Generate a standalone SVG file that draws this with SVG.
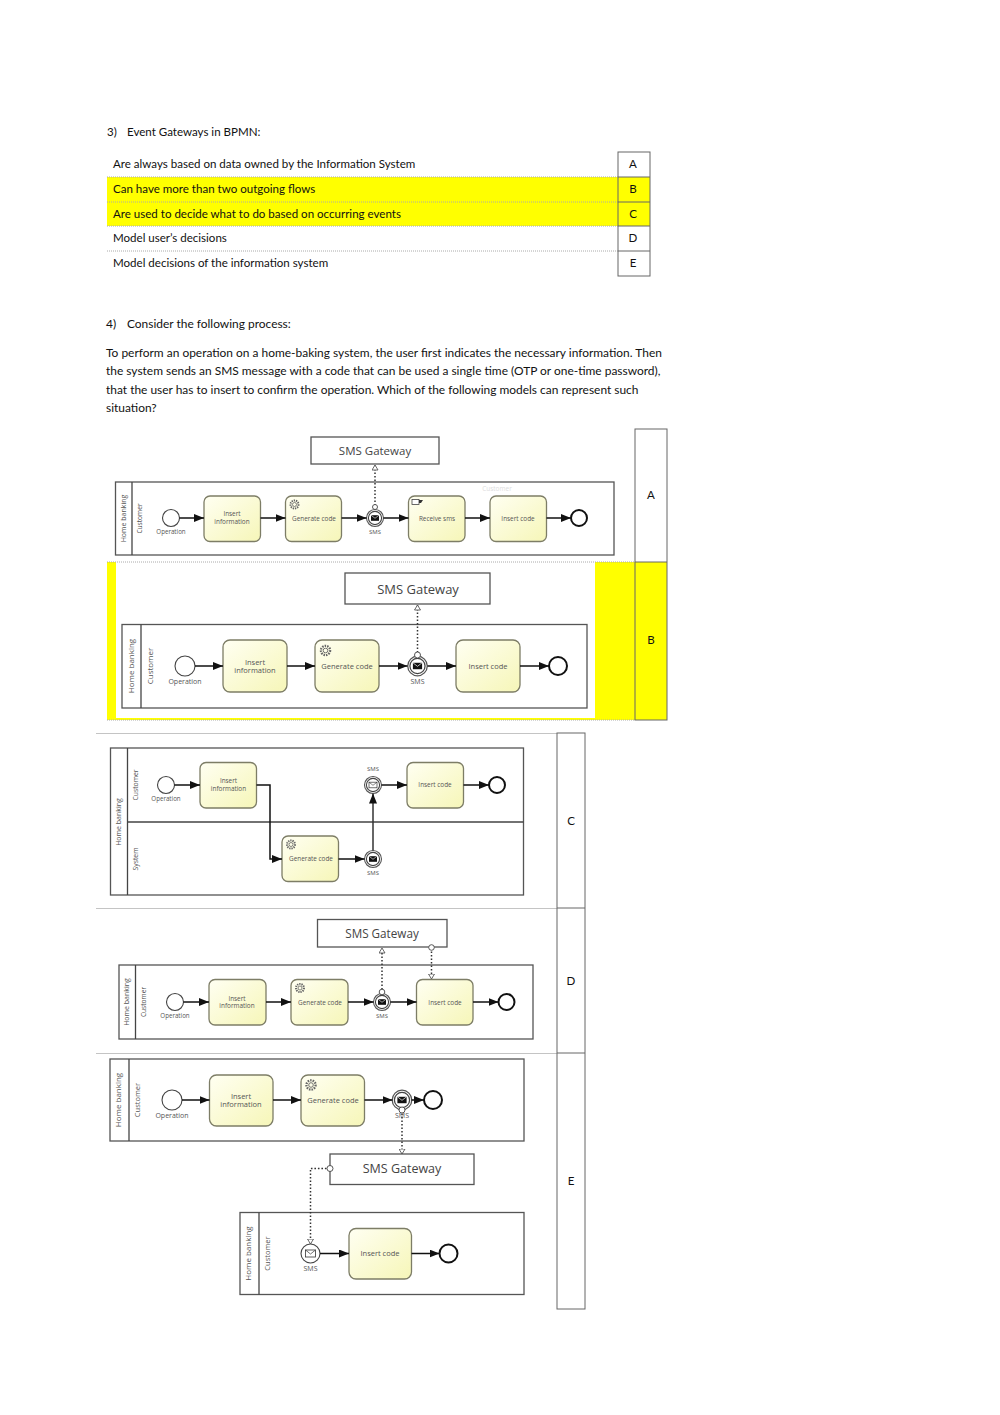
<svg xmlns="http://www.w3.org/2000/svg" width="1000" height="1415" viewBox="0 0 1000 1415">
<style>
.b{font-family:Lato,"Liberation Sans",sans-serif;font-size:11.55px;fill:#111}
.p{font-size:11.95px}
.c{text-anchor:middle}
.pool,.box{fill:#fff;stroke:#555;stroke-width:1.3}
.ln{fill:none;stroke:#444;stroke-width:1.3}
.cell{fill:none;stroke:#666;stroke-width:1}
.dot{stroke:#aaa;stroke-width:1;stroke-dasharray:1 1;fill:none}
.task{fill:url(#tg);stroke:#7d7d66;stroke-width:1.3}
.t{font-family:"Open Sans","Liberation Sans",sans-serif;fill:#555;text-anchor:middle}
.gw{font-family:"Open Sans","Liberation Sans",sans-serif;fill:#444;text-anchor:middle}
.seq{fill:none;stroke:#111;stroke-width:1.5;marker-end:url(#ar)}
.msg{fill:none;stroke:#333;stroke-width:1.5;stroke-dasharray:1.6 1.9;marker-end:url(#op)}
.o{fill:#fff;stroke:#444;stroke-width:.9}
.start{fill:#fff;stroke:#444;stroke-width:1.1}
.end{fill:#fff;stroke:#111;stroke-width:2}
</style>
<defs>
<linearGradient id="tg" x1="0" y1="0" x2="1" y2="1"><stop offset="0" stop-color="#fffff2"/><stop offset="1" stop-color="#f6f6b8"/></linearGradient>
<marker id="ar" markerUnits="userSpaceOnUse" viewBox="0 0 10 8" markerWidth="10" markerHeight="8" refX="10" refY="4" orient="auto"><path d="M0 0L10 4L0 8z" fill="#111"/></marker>
<marker id="op" markerUnits="userSpaceOnUse" viewBox="0 0 6 7" markerWidth="6" markerHeight="7" refX="5.5" refY="3.5" orient="auto"><path d="M.5 .5L5.5 3.5L.5 6.500z" fill="#fff" stroke="#444" stroke-width=".8"/></marker>
<g id="gear"><circle r="4" fill="none" stroke="#666" stroke-width="2" stroke-dasharray="1.300 .9"/><circle r="2" fill="none" stroke="#666" stroke-width=".8"/></g>
<g id="thr"><circle r="8.500" fill="#fff" stroke="#555" stroke-width="1.100"/><circle r="6.600" fill="#fff" stroke="#444" stroke-width="1.100"/><rect x="-4" y="-2.800" width="8" height="5.600" fill="#111"/><path d="M-4 -2.800L0 .3L4 -2.800" fill="none" stroke="#fff" stroke-width=".6"/></g>
<g id="cat"><circle r="8.500" fill="#fff" stroke="#555" stroke-width="1.100"/><circle r="6.600" fill="#fff" stroke="#444" stroke-width="1.100"/><rect x="-4" y="-2.800" width="8" height="5.600" fill="#fff" stroke="#333" stroke-width=".7"/><path d="M-4 -2.800L0 .3L4 -2.800" fill="none" stroke="#333" stroke-width=".6"/></g>
</defs>
<rect width="1000" height="1415" fill="#fff"/>

<g id="q3">
<text class="b" x="107" y="136">3)</text><text class="b" x="127" y="136">Event Gateways in BPMN:</text>
<rect x="107" y="177" width="543" height="49" fill="#ff0"/>
<path class="dot" d="M107 177H618M107 202H618M107 226H618M107 251H618"/>
<rect class="cell" x="618" y="152" width="32" height="124"/>
<path class="cell" d="M618 177H650M618 202H650M618 226H650M618 251H650"/>
<text class="b" x="113" y="168">Are always based on data owned by the Information System</text>
<text class="b" x="113" y="193">Can have more than two outgoing flows</text>
<text class="b" x="113" y="218">Are used to decide what to do based on occurring events</text>
<text class="b" x="113" y="242">Model user’s decisions</text>
<text class="b" x="113" y="267">Model decisions of the information system</text>
<text class="b c" x="633" y="168">A</text><text class="b c" x="633" y="193">B</text><text class="b c" x="633" y="218">C</text><text class="b c" x="633" y="242">D</text><text class="b c" x="633" y="267">E</text>
</g>

<g id="q4">
<text class="b p" x="106" y="328">4)</text><text class="b p" x="127" y="328">Consider the following process:</text>
<text class="b p" x="106" y="357">To perform an operation on a home-baking system, the user first indicates the necessary information. Then</text>
<text class="b p" x="106" y="375">the system sends an SMS message with a code that can be used a single time (OTP or one-time password),</text>
<text class="b p" x="106" y="394">that the user has to insert to confirm the operation. Which of the following models can represent such</text>
<text class="b p" x="106" y="412">situation?</text>
</g>

<g id="answer-grid">
<rect x="107" y="562" width="560" height="158" fill="#ff0"/>
<rect x="116" y="562" width="479" height="156" fill="#fff"/>
<path class="dot" d="M107 562H635M107 720H635"/>
<rect class="cell" x="635" y="429" width="32" height="291"/>
<path class="cell" d="M635 562H667"/>
<path d="M96 733.500H557M96 908.500H557M96 1053.500H557" stroke="#c4c4c4" stroke-width="1" fill="none"/>
<rect class="cell" x="557" y="733" width="28" height="576"/>
<path class="cell" d="M557 908H585M557 1053H585"/>
<text class="b c" x="651" y="499">A</text><text class="b c" x="651" y="644">B</text><text class="b c" x="571" y="825">C</text><text class="b c" x="571" y="985">D</text><text class="b c" x="571" y="1185">E</text>
</g>

<!-- Model A -->
<g id="a-pool"><rect class="pool" x="115.500" y="482" width="498.500" height="73"/><path class="ln" d="M132 482V555"/>
<text class="t" font-size="7" transform="translate(126,518.500) rotate(-90)">Home banking</text>
<text class="t" font-size="6.600" transform="translate(142,518.500) rotate(-90)">Customer</text>
<text x="497" y="491" font-family="Open Sans,sans-serif" font-size="6.500" fill="#ddd" text-anchor="middle">Customer</text></g>
<g id="a-gateway"><rect class="box" x="311" y="437" width="128" height="27"/><text class="gw" x="375" y="455" font-size="11.500">SMS Gateway</text></g>
<g id="a-start"><circle class="start" cx="171" cy="518" r="8.500"/><text class="t" x="171" y="534" font-size="6.200">Operation</text></g>
<g id="a-t1"><rect class="task" x="204" y="496" width="56.500" height="45.500" rx="6"/><text class="t" x="232" y="516" font-size="6.400">Insert</text><text class="t" x="232" y="523.500" font-size="6.400">information</text></g>
<g id="a-t2"><rect class="task" x="285.500" y="496" width="56" height="45.500" rx="6"/><use href="#gear" x="294.500" y="504.500"/><text class="t" x="314" y="520.500" font-size="6.400">Generate code</text></g>
<g id="a-ev"><use href="#thr" x="375" y="518"/><text class="t" x="375" y="534" font-size="6">SMS</text></g>
<g id="a-t3"><rect class="task" x="408.500" y="496" width="56.500" height="45.500" rx="6"/><rect x="412" y="499.500" width="7" height="5" fill="#fff" stroke="#444" stroke-width=".8"/><path d="M419 500h4l-2 3h-2z" fill="#333"/><text class="t" x="437" y="520.500" font-size="6.400">Receive sms</text></g>
<g id="a-t4"><rect class="task" x="490" y="496" width="56.500" height="45.500" rx="6"/><text class="t" x="518" y="520.500" font-size="6.400">Insert code</text></g>
<g id="a-end"><circle class="end" cx="579" cy="518" r="8"/></g>

<!-- Model B -->
<g id="b-pool"><rect class="pool" x="122" y="624.500" width="465" height="83.500"/><path class="ln" d="M141 624.500V708"/>
<text class="t" font-size="8" transform="translate(133.500,666) rotate(-90)">Home banking</text>
<text class="t" font-size="8" transform="translate(152.500,666) rotate(-90)">Customer</text></g>
<g id="b-gateway"><rect class="box" x="345" y="573" width="145" height="31"/><text class="gw" x="418" y="594" font-size="13">SMS Gateway</text></g>
<g id="b-start"><circle class="start" cx="185" cy="666" r="10"/><text class="t" x="185" y="684" font-size="7">Operation</text></g>
<g id="b-t1"><rect class="task" x="223" y="640" width="64" height="52" rx="7"/><text class="t" x="255" y="665" font-size="7.500">Insert</text><text class="t" x="255" y="673" font-size="7.500">information</text></g>
<g id="b-t2"><rect class="task" x="315" y="640" width="64" height="52" rx="7"/><use href="#gear" transform="translate(325.500,650.500) scale(1.150)"/><text class="t" x="347" y="668.500" font-size="7.500">Generate code</text></g>
<g id="b-ev"><use href="#thr" transform="translate(417.500,666) scale(1.150)"/><text class="t" x="417.500" y="684" font-size="7">SMS</text></g>
<g id="b-t3"><rect class="task" x="456" y="640" width="64" height="52" rx="7"/><text class="t" x="488" y="668.500" font-size="7.500">Insert code</text></g>
<g id="b-end"><circle class="end" cx="558" cy="666" r="9"/></g>

<!-- Model C -->
<g id="c-pool"><rect class="pool" x="110.500" y="748" width="413" height="147"/><path class="ln" d="M127.500 748V895M127.500 822H523.500"/>
<text class="t" font-size="7" transform="translate(121,822) rotate(-90)">Home banking</text>
<text class="t" font-size="6.800" transform="translate(138,785) rotate(-90)">Customer</text>
<text class="t" font-size="6.800" transform="translate(138,859) rotate(-90)">System</text></g>
<g id="c-start"><circle class="start" cx="166" cy="785" r="8.500"/><text class="t" x="166" y="801" font-size="6.200">Operation</text></g>
<g id="c-t1"><rect class="task" x="200" y="762.500" width="56.500" height="45.500" rx="6"/><text class="t" x="228.500" y="783" font-size="6.400">Insert</text><text class="t" x="228.500" y="790.500" font-size="6.400">information</text></g>
<g id="c-t2"><rect class="task" x="282" y="836" width="56.500" height="45.500" rx="6"/><use href="#gear" x="291" y="844.500"/><text class="t" x="311" y="861" font-size="6.400">Generate code</text></g>
<g id="c-ev1"><use href="#thr" x="373" y="859"/><text class="t" x="373" y="875" font-size="6">SMS</text></g>
<g id="c-ev2"><use href="#cat" x="373" y="785"/><text class="t" x="373" y="771" font-size="6">SMS</text></g>
<g id="c-t3"><rect class="task" x="407" y="762.500" width="56.500" height="45.500" rx="6"/><text class="t" x="435" y="787" font-size="6.400">Insert code</text></g>
<g id="c-end"><circle class="end" cx="497" cy="785" r="8"/></g>

<!-- Model D -->
<g id="d-pool"><rect class="pool" x="119" y="965" width="414" height="74"/><path class="ln" d="M135.500 965V1039"/>
<text class="t" font-size="7" transform="translate(129,1002) rotate(-90)">Home banking</text>
<text class="t" font-size="6.600" transform="translate(146,1002) rotate(-90)">Customer</text></g>
<g id="d-gateway"><rect class="box" x="317.500" y="919.500" width="129.500" height="27.500"/><text class="gw" x="382" y="938" font-size="11.700">SMS Gateway</text></g>
<g id="d-start"><circle class="start" cx="175" cy="1002" r="8.500"/><text class="t" x="175" y="1018" font-size="6.200">Operation</text></g>
<g id="d-t1"><rect class="task" x="209" y="979.500" width="57" height="45.500" rx="6"/><text class="t" x="237" y="1000.500" font-size="6.400">Insert</text><text class="t" x="237" y="1008" font-size="6.400">information</text></g>
<g id="d-t2"><rect class="task" x="291" y="979.500" width="57" height="45.500" rx="6"/><use href="#gear" x="300" y="988"/><text class="t" x="320" y="1004.500" font-size="6.400">Generate code</text></g>
<g id="d-ev"><use href="#thr" x="382" y="1002"/><text class="t" x="382" y="1018" font-size="6">SMS</text></g>
<g id="d-t3"><rect class="task" x="416.500" y="979.500" width="56.500" height="45.500" rx="6"/><text class="t" x="445" y="1004.500" font-size="6.400">Insert code</text></g>
<g id="d-end"><circle class="end" cx="506.500" cy="1002" r="8"/></g>

<!-- Model E -->
<g id="e-pool"><rect class="pool" x="110" y="1059" width="414" height="82"/><path class="ln" d="M129 1059V1141"/>
<text class="t" font-size="8" transform="translate(121,1100) rotate(-90)">Home banking</text>
<text class="t" font-size="7.500" transform="translate(140,1100) rotate(-90)">Customer</text></g>
<g id="e-gateway"><rect class="box" x="330" y="1154" width="144" height="30.500"/><text class="gw" x="402" y="1173" font-size="12.500">SMS Gateway</text></g>
<g id="e-start"><circle class="start" cx="172" cy="1100" r="10"/><text class="t" x="172" y="1118" font-size="7">Operation</text></g>
<g id="e-t1"><rect class="task" x="209.500" y="1075" width="63.500" height="51" rx="7"/><text class="t" x="241" y="1099" font-size="7.500">Insert</text><text class="t" x="241" y="1107" font-size="7.500">information</text></g>
<g id="e-t2"><rect class="task" x="301" y="1075" width="63.500" height="51" rx="7"/><use href="#gear" transform="translate(311,1085) scale(1.150)"/><text class="t" x="333" y="1102.500" font-size="7.500">Generate code</text></g>
<g id="e-ev"><text class="t" x="402" y="1118" font-size="7">SMS</text><use href="#thr" transform="translate(402,1100) scale(1.150)"/></g>
<g id="e-end"><circle class="end" cx="433" cy="1100" r="9"/></g>

<g id="e2-pool"><rect class="pool" x="240" y="1212.500" width="284" height="82"/><path class="ln" d="M259 1212.500V1294.500"/>
<text class="t" font-size="8" transform="translate(251,1253.500) rotate(-90)">Home banking</text>
<text class="t" font-size="7.500" transform="translate(270,1253.500) rotate(-90)">Customer</text></g>
<g id="e2-ev"><circle class="start" cx="310.500" cy="1253.500" r="9.500"/><rect x="305.500" y="1250" width="10" height="7" fill="#fff" stroke="#333" stroke-width=".8"/><path d="M305.500 1250L310.500 1254L315.500 1250" fill="none" stroke="#333" stroke-width=".7"/><text class="t" x="310.500" y="1271" font-size="7">SMS</text></g>
<g id="e2-t"><rect class="task" x="349" y="1228.500" width="62.500" height="50.500" rx="7"/><text class="t" x="380" y="1256" font-size="7.500">Insert code</text></g>
<g id="e2-end"><circle class="end" cx="448.500" cy="1253.500" r="9"/></g>

<g id="connectors">
<path class="seq" d="M179.500 518H204"/><path class="seq" d="M260.500 518H285.500"/><path class="seq" d="M341.500 518H366.500"/><path class="seq" d="M383.500 518H408.500"/><path class="seq" d="M465 518H490"/><path class="seq" d="M546.500 518H571"/>
<path class="msg" d="M375 509V465"/><circle class="o" cx="375" cy="507" r="2.500"/>

<path class="seq" d="M195 666H223"/><path class="seq" d="M287 666H315"/><path class="seq" d="M379 666H407.500"/><path class="seq" d="M427.500 666H456"/><path class="seq" d="M520 666H549"/>
<path class="msg" d="M417.500 656V605"/><circle class="o" cx="417.500" cy="655" r="3"/>

<path class="seq" d="M174.500 785H200"/><path class="seq" d="M256.500 785H270V859H282"/><path class="seq" d="M338.500 859H364.500"/><path class="seq" d="M373 850.500V793.500" style="stroke:#333"/><path class="seq" d="M381.500 785H407"/><path class="seq" d="M463.500 785H489"/>

<path class="seq" d="M183.500 1002H209"/><path class="seq" d="M266 1002H291"/><path class="seq" d="M348 1002H373.500"/><path class="seq" d="M390.500 1002H416.500"/><path class="seq" d="M473 1002H498.500"/>
<path class="msg" d="M382 993V948"/><circle class="o" cx="382" cy="992" r="2.800"/>
<path class="msg" d="M431.500 948V979"/><circle class="o" cx="431.500" cy="947.500" r="2.800"/>

<path class="seq" d="M182 1100H209.500"/><path class="seq" d="M273 1100H301"/><path class="seq" d="M364.500 1100H392.500"/><path class="seq" d="M411.500 1100H424"/>
<path class="msg" d="M402 1110V1154"/><circle class="o" cx="402" cy="1110" r="3"/>
<path class="msg" d="M330 1168.500H310.500V1244"/><circle class="o" cx="330" cy="1168.500" r="3"/>
<path class="seq" d="M320 1253.500H349"/><path class="seq" d="M411.500 1253.500H439.500"/>
</g>
</svg>
